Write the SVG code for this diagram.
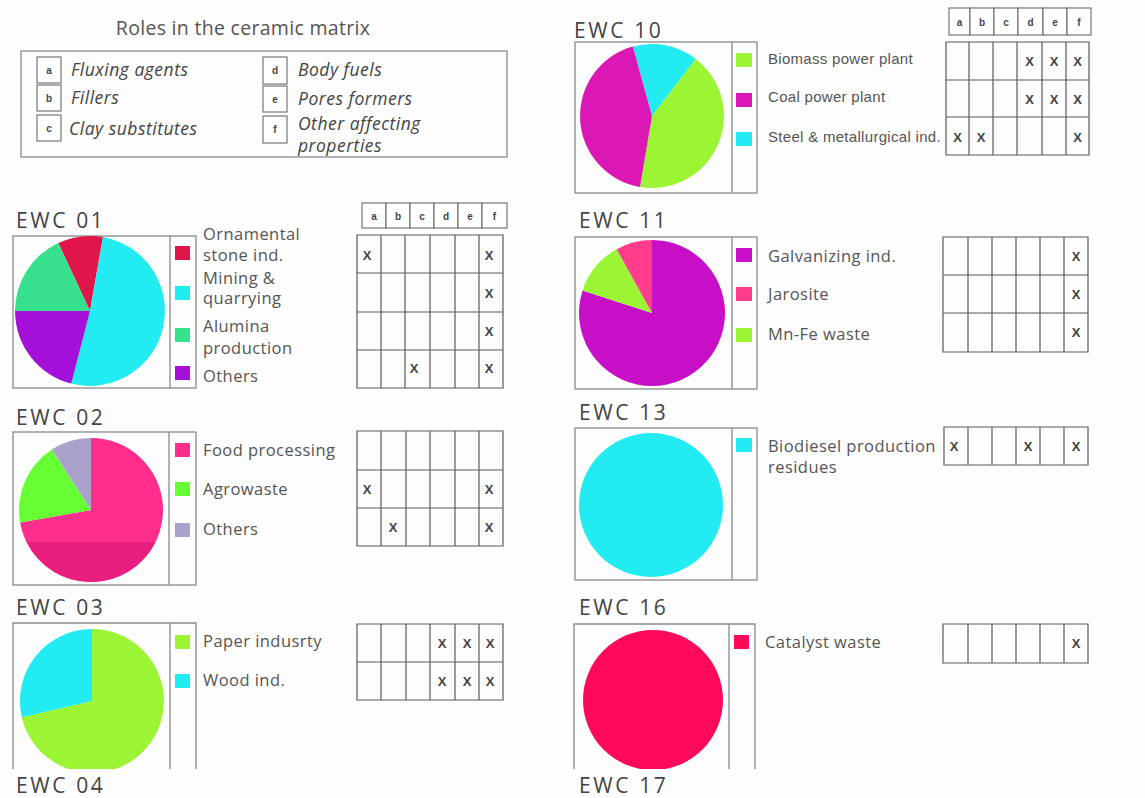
<svg xmlns="http://www.w3.org/2000/svg" width="1145" height="798" viewBox="0 0 1145 798">
  <style>
    .bg { fill: #fdfdfd; }
    .frame { fill: none; stroke: #8a8a8a; stroke-width: 1.3; }
    .grid { fill: none; stroke: #5a5a5a; stroke-width: 1.2; }
    .hdr { fill: #fff; stroke: #6a6a6a; stroke-width: 1.1; }
    .title { font-family: "Open Sans", "Liberation Sans", sans-serif; font-size: 21px; fill: #444; letter-spacing: 2.6px; }
    .lab { font-family: "Open Sans", "Liberation Sans", sans-serif; font-size: 16.5px; fill: #555; letter-spacing: 0.45px; }
    .labA { font-family: "Liberation Sans", Arial, sans-serif; font-size: 15px; fill: #555; letter-spacing: 0.3px; }
    .leg { font-family: "Open Sans", "Liberation Sans", sans-serif; font-size: 17.5px; font-style: italic; fill: #444; letter-spacing: 0.5px; }
    .key { font-family: "Liberation Sans", Arial, sans-serif; font-size: 10px; font-weight: bold; fill: #444; text-anchor: middle; }
    .x { font-family: "Liberation Sans", Arial, sans-serif; font-size: 13px; font-weight: bold; fill: #444; text-anchor: middle; }
  </style>
  <defs>
    <clipPath id="cutLeft"><rect x="0" y="600" width="300" height="169"/></clipPath>
    <clipPath id="cutRight"><rect x="560" y="600" width="300" height="169"/></clipPath>
  </defs>

  <rect class="bg" x="0" y="0" width="1145" height="798"/>

  <!-- Key of roles -->
  <g id="roles-key">
    <text x="243" y="35" text-anchor="middle" font-family="Open Sans, Liberation Sans, sans-serif" font-size="19.5" fill="#555" letter-spacing="0.3">Roles in the ceramic matrix</text>
    <rect class="frame" x="21" y="51" width="486" height="106"/>
    <rect class="hdr" x="37" y="57" width="24" height="26"/>
    <rect class="hdr" x="37" y="85" width="24" height="26"/>
    <rect class="hdr" x="37" y="115" width="24" height="26"/>
    <rect class="hdr" x="263" y="57" width="24" height="27"/>
    <rect class="hdr" x="263" y="86" width="24" height="26"/>
    <rect class="hdr" x="263" y="116" width="24" height="27"/>
    <text class="key" x="49" y="74">a</text>
    <text class="key" x="49" y="102">b</text>
    <text class="key" x="49" y="132">c</text>
    <text class="key" x="275" y="74">d</text>
    <text class="key" x="275" y="103">e</text>
    <text class="key" x="275" y="133">f</text>
    <text class="leg" x="71" y="76">Fluxing agents</text>
    <text class="leg" x="71" y="104">Fillers</text>
    <text class="leg" x="69" y="135">Clay substitutes</text>
    <text class="leg" x="298" y="76">Body fuels</text>
    <text class="leg" x="298" y="105">Pores formers</text>
    <text class="leg" x="298" y="130">Other affecting</text>
    <text class="leg" x="298" y="152">properties</text>
  </g>

  <!-- EWC 10 -->
  <g id="ewc10">
    <text class="title" x="574" y="38">EWC 10</text>
    <rect class="frame" x="575" y="42" width="182" height="151"/>
    <line class="frame" x1="732" y1="42" x2="732" y2="193"/>
    <path d="M652,116 L632.9,46.6 A72,72 0 0 1 695.8,58.9 Z" fill="#22ecf2"/>
    <path d="M652,116 L695.8,58.9 A72,72 0 0 1 640,187 Z" fill="#9cf534"/>
    <path d="M652,116 L640,187 A72,72 0 0 1 632.9,46.6 Z" fill="#dc18b4"/>
    <rect x="736" y="53" width="16" height="14" fill="#9cf534"/>
    <rect x="736" y="93" width="16" height="14" fill="#dc18b4"/>
    <rect x="736" y="132" width="16" height="14" fill="#22ecf2"/>
    <text class="labA" x="768" y="64">Biomass power plant</text>
    <text class="labA" x="768" y="102">Coal power plant</text>
    <text class="labA" x="768" y="142">Steel &amp; metallurgical ind.</text>
    <g>
      <rect class="hdr" x="949" y="8" width="21" height="27"/>
      <rect class="hdr" x="970" y="8" width="24" height="27"/>
      <rect class="hdr" x="994" y="8" width="24" height="27"/>
      <rect class="hdr" x="1018" y="8" width="25" height="27"/>
      <rect class="hdr" x="1043" y="8" width="24" height="27"/>
      <rect class="hdr" x="1067" y="8" width="24" height="27"/>
      <text class="key" x="959.5" y="26">a</text>
      <text class="key" x="982" y="26">b</text>
      <text class="key" x="1006" y="26">c</text>
      <text class="key" x="1030.5" y="26">d</text>
      <text class="key" x="1055" y="26">e</text>
      <text class="key" x="1079" y="26">f</text>
    </g>
    <path class="grid" d="M946,42 H1089 V155 H946 Z M946,80 H1089 M946,117 H1089 M969,42 V155 M993,42 V155 M1017,42 V155 M1042,42 V155 M1066,42 V155"/>
    <text class="x" x="1029.5" y="66">X</text>
    <text class="x" x="1054" y="66">X</text>
    <text class="x" x="1077.5" y="66">X</text>
    <text class="x" x="1029.5" y="104">X</text>
    <text class="x" x="1054" y="104">X</text>
    <text class="x" x="1077.5" y="104">X</text>
    <text class="x" x="957.5" y="142">X</text>
    <text class="x" x="981" y="142">X</text>
    <text class="x" x="1077.5" y="142">X</text>
  </g>

  <!-- EWC 01 -->
  <g id="ewc01">
    <text class="title" x="16" y="228">EWC 01</text>
    <rect class="frame" x="13" y="236" width="183" height="152"/>
    <line class="frame" x1="170" y1="236" x2="170" y2="388"/>
    <path d="M90,311 L58.3,243 A75,75 0 0 1 103,237.1 Z" fill="#e0164a"/>
    <path d="M90,311 L103,237.1 A75,75 0 1 1 71.3,383.6 Z" fill="#22ecf2"/>
    <path d="M90,311 L71.3,383.6 A75,75 0 0 1 15,311 Z" fill="#a410d8"/>
    <path d="M90,311 L15,311 A75,75 0 0 1 58.3,243 Z" fill="#36e08c"/>
    <rect x="175" y="246" width="15" height="14" fill="#e0164a"/>
    <rect x="175" y="286" width="15" height="14" fill="#22ecf2"/>
    <rect x="175" y="328" width="15" height="14" fill="#36e08c"/>
    <rect x="175" y="366" width="15" height="14" fill="#a410d8"/>
    <text class="lab" x="203" y="240">Ornamental</text>
    <text class="lab" x="203" y="261">stone ind.</text>
    <text class="lab" x="203" y="284">Mining &amp;</text>
    <text class="lab" x="203" y="304">quarrying</text>
    <text class="lab" x="203" y="332">Alumina</text>
    <text class="lab" x="203" y="354">production</text>
    <text class="lab" x="203" y="382">Others</text>
    <g>
      <rect class="hdr" x="362" y="203" width="24" height="25"/>
      <rect class="hdr" x="386" y="203" width="24" height="25"/>
      <rect class="hdr" x="410" y="203" width="24" height="25"/>
      <rect class="hdr" x="434" y="203" width="24" height="25"/>
      <rect class="hdr" x="458" y="203" width="24" height="25"/>
      <rect class="hdr" x="482" y="203" width="25" height="25"/>
      <text class="key" x="374" y="220">a</text>
      <text class="key" x="398" y="220">b</text>
      <text class="key" x="422" y="220">c</text>
      <text class="key" x="446" y="220">d</text>
      <text class="key" x="470" y="220">e</text>
      <text class="key" x="494.5" y="220">f</text>
    </g>
    <path class="grid" d="M357,235 H503 V388 H357 Z M357,273 H503 M357,312 H503 M357,350 H503 M381,235 V388 M405,235 V388 M430,235 V388 M455,235 V388 M479,235 V388"/>
    <text class="x" x="367" y="260">X</text>
    <text class="x" x="489" y="260">X</text>
    <text class="x" x="489" y="298">X</text>
    <text class="x" x="489" y="336">X</text>
    <text class="x" x="414" y="373">X</text>
    <text class="x" x="489" y="373">X</text>
  </g>

  <!-- EWC 11 -->
  <g id="ewc11">
    <text class="title" x="579" y="228">EWC 11</text>
    <rect class="frame" x="575" y="237" width="182" height="152"/>
    <line class="frame" x1="732" y1="237" x2="732" y2="389"/>
    <path d="M652,313 L652,240 A73,73 0 1 1 582.6,290.4 Z" fill="#c80fc8"/>
    <path d="M652,313 L582.6,290.4 A73,73 0 0 1 616.6,249.2 Z" fill="#9cf534"/>
    <path d="M652,313 L616.6,249.2 A73,73 0 0 1 652,240 Z" fill="#ff3d8a"/>
    <rect x="736" y="248" width="16" height="14" fill="#c80fc8"/>
    <rect x="736" y="287" width="16" height="14" fill="#ff3d8a"/>
    <rect x="736" y="328" width="16" height="14" fill="#9cf534"/>
    <text class="lab" x="768" y="262">Galvanizing ind.</text>
    <text class="lab" x="768" y="300">Jarosite</text>
    <text class="lab" x="768" y="340">Mn-Fe waste</text>
    <path class="grid" d="M943,237 H1088 V352 H943 Z M943,275 H1088 M943,313 H1088 M968,237 V352 M992,237 V352 M1016,237 V352 M1040,237 V352 M1064,237 V352"/>
    <text class="x" x="1076" y="261">X</text>
    <text class="x" x="1076" y="299">X</text>
    <text class="x" x="1076" y="337">X</text>
  </g>

  <!-- EWC 02 -->
  <g id="ewc02">
    <text class="title" x="16" y="425">EWC 02</text>
    <rect class="frame" x="13" y="432" width="183" height="153"/>
    <line class="frame" x1="169" y1="432" x2="169" y2="585"/>
    <path d="M91,510 L91,438 A72,72 0 1 1 20.1,522.5 Z" fill="#ff2d8c"/>
    <path d="M26.5,542 L155.5,542 A72,72 0 0 1 26.5,542 Z" fill="#e81f7e"/>
    <path d="M91,510 L20.1,522.5 A72,72 0 0 1 51.8,449.6 Z" fill="#66ff33"/>
    <path d="M91,510 L51.8,449.6 A72,72 0 0 1 91,438 Z" fill="#aba2cc"/>
    <rect x="175" y="443" width="15" height="14" fill="#ff2d8c"/>
    <rect x="175" y="482" width="15" height="14" fill="#66ff33"/>
    <rect x="175" y="523" width="15" height="14" fill="#aba2cc"/>
    <text class="lab" x="203" y="456">Food processing</text>
    <text class="lab" x="203" y="495">Agrowaste</text>
    <text class="lab" x="203" y="535">Others</text>
    <path class="grid" d="M357,431 H503 V546 H357 Z M357,470 H503 M357,508 H503 M381,431 V546 M406,431 V546 M430,431 V546 M455,431 V546 M479,431 V546"/>
    <text class="x" x="367" y="494">X</text>
    <text class="x" x="489" y="494">X</text>
    <text class="x" x="393" y="532">X</text>
    <text class="x" x="489" y="532">X</text>
  </g>

  <!-- EWC 13 -->
  <g id="ewc13">
    <text class="title" x="579" y="420">EWC 13</text>
    <rect class="frame" x="575" y="428" width="182" height="152"/>
    <line class="frame" x1="732" y1="428" x2="732" y2="580"/>
    <circle cx="651" cy="505" r="72" fill="#22ecf2"/>
    <rect x="736" y="438" width="16" height="14" fill="#22ecf2"/>
    <text class="lab" x="768" y="452">Biodiesel production</text>
    <text class="lab" x="768" y="473">residues</text>
    <path class="grid" d="M944,427 H1088 V465 H944 Z M968,427 V465 M992,427 V465 M1016,427 V465 M1040,427 V465 M1064,427 V465"/>
    <text class="x" x="954" y="451">X</text>
    <text class="x" x="1028" y="451">X</text>
    <text class="x" x="1076" y="451">X</text>
  </g>

  <!-- EWC 03 (frame runs off the lower edge) -->
  <g id="ewc03">
    <text class="title" x="16" y="615">EWC 03</text>
    <path class="frame" d="M13,769 V623 H196 V769 M170,623 V769"/>
    <g clip-path="url(#cutLeft)">
      <path d="M92,701 L92,629 A72,72 0 1 1 21.8,717.2 Z" fill="#9cf534"/>
      <path d="M92,701 L21.8,717.2 A72,72 0 0 1 92,629 Z" fill="#22ecf2"/>
    </g>
    <rect x="175" y="635" width="15" height="14" fill="#9cf534"/>
    <rect x="175" y="674" width="15" height="14" fill="#22ecf2"/>
    <text class="lab" x="203" y="647">Paper indusrty</text>
    <text class="lab" x="203" y="686">Wood ind.</text>
    <path class="grid" d="M357,624 H503 V700 H357 Z M357,662 H503 M381,624 V700 M406,624 V700 M430,624 V700 M455,624 V700 M479,624 V700"/>
    <text class="x" x="442" y="648">X</text>
    <text class="x" x="467" y="648">X</text>
    <text class="x" x="490" y="648">X</text>
    <text class="x" x="442" y="686">X</text>
    <text class="x" x="467" y="686">X</text>
    <text class="x" x="490" y="686">X</text>
  </g>

  <!-- EWC 16 (frame runs off the lower edge) -->
  <g id="ewc16">
    <text class="title" x="579" y="615">EWC 16</text>
    <path class="frame" d="M574,769 V624 H755 V769 M729,624 V769"/>
    <g clip-path="url(#cutRight)">
      <circle cx="653" cy="700" r="70" fill="#ff0a5a"/>
    </g>
    <rect x="734" y="635" width="15" height="14" fill="#ff0a5a"/>
    <text class="lab" x="765" y="648">Catalyst waste</text>
    <path class="grid" d="M943,624 H1088 V663 H943 Z M968,624 V663 M992,624 V663 M1016,624 V663 M1040,624 V663 M1064,624 V663"/>
    <text class="x" x="1076" y="648">X</text>
  </g>

  <!-- Captions at the lower edge -->
  <g id="ewc04">
    <text class="title" x="16" y="793">EWC 04</text>
  </g>
  <g id="ewc17">
    <text class="title" x="579" y="793">EWC 17</text>
  </g>
</svg>
